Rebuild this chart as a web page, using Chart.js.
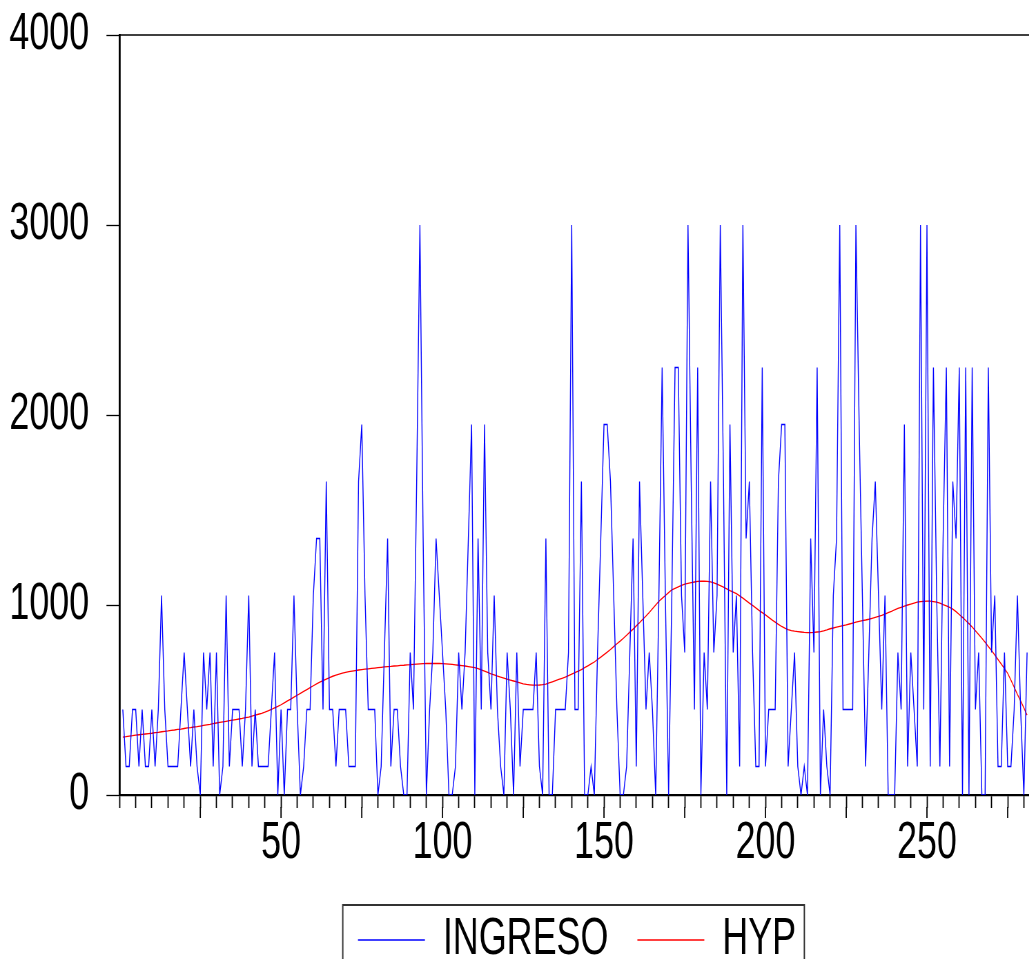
<!DOCTYPE html>
<html>
<head>
<meta charset="utf-8">
<script src="https://cdn.jsdelivr.net/npm/chart.js@4/dist/chart.umd.min.js"></script>
<style>
  html, body { margin: 0; padding: 0; background: #fff; overflow: hidden; }
  canvas { display: block; }
</style>
</head>
<body>
<!-- el gráfico original tiene el texto comprimido en horizontal: se dibuja más ancho y se estrecha con CSS -->
<canvas id="grafico" width="1672" height="985" style="width:1154px;height:985px"></canvas>
<script>
// INGRESO: observaciones 1..281
const ingreso = [
  450, 150, 150, 450, 450, 150, 450, 150, 150, 450,
  150, 450, 1050, 450, 150, 150, 150, 150, 450, 750,
  450, 150, 450, 150, 0, 750, 450, 750, 150, 750,
  0, 150, 1050, 150, 450, 450, 450, 150, 450, 1050,
  150, 450, 150, 150, 150, 150, 450, 750, 0, 450,
  0, 450, 450, 1050, 450, 0, 150, 450, 450, 1050,
  1350, 1350, 450, 1650, 450, 450, 150, 450, 450, 450,
  150, 150, 150, 1650, 1950, 1050, 450, 450, 450, 0,
  150, 750, 1350, 150, 450, 450, 150, 0, 0, 750,
  450, 1650, 3000, 1350, 0, 450, 750, 1350, 1050, 750,
  450, 0, 0, 150, 750, 450, 750, 1350, 1950, 0,
  1350, 450, 1950, 750, 450, 1050, 450, 150, 0, 750,
  450, 0, 750, 150, 450, 450, 450, 450, 750, 150,
  0, 1350, 0, 0, 450, 450, 450, 450, 750, 3000,
  450, 450, 1650, 0, 0, 150, 0, 750, 1350, 1950,
  1950, 1650, 1050, 450, 0, 0, 150, 750, 1350, 150,
  1650, 1050, 450, 750, 450, 0, 1050, 2250, 1050, 0,
  1050, 2250, 2250, 1050, 750, 3000, 1650, 450, 2250, 0,
  750, 450, 1650, 750, 1050, 3000, 1650, 0, 1950, 750,
  1050, 150, 3000, 1350, 1650, 750, 150, 150, 2250, 150,
  450, 450, 450, 1650, 1950, 1950, 150, 450, 750, 150,
  0, 150, 0, 1350, 750, 2250, 0, 450, 150, 0,
  1050, 1350, 3000, 450, 450, 450, 450, 3000, 1950, 1050,
  150, 750, 1350, 1650, 1050, 450, 1050, 0, 0, 0,
  750, 450, 1950, 150, 750, 450, 150, 3000, 450, 3000,
  150, 2250, 1050, 150, 1350, 2250, 150, 1650, 1350, 2250,
  0, 2250, 0, 2250, 450, 750, 0, 0, 2250, 750,
  1050, 150, 150, 750, 150, 150, 450, 1050, 450, 0,
  750
];

// HYP: tendencia Hodrick-Prescott
const hyp = [
  305, 307, 310, 312, 315, 317, 319, 321, 323, 325,
  328, 330, 333, 335, 337, 340, 342, 345, 347, 350,
  353, 355, 358, 360, 363, 366, 369, 372, 376, 379,
  382, 385, 388, 391, 394, 397, 400, 403, 407, 410,
  415, 420, 425, 430, 436, 443, 450, 458, 466, 475,
  485, 495, 505, 515, 525, 535, 545, 555, 565, 575,
  585, 594, 602, 610, 618, 625, 631, 636, 641, 645,
  649, 652, 655, 658, 660, 662, 664, 666, 668, 670,
  672, 674, 676, 677, 679, 680, 682, 683, 685, 686,
  688, 689, 690, 691, 692, 692, 692, 692, 692, 691,
  690, 689, 687, 685, 683, 681, 679, 676, 673, 670,
  665, 659, 652, 645, 638, 632, 626, 620, 615, 610,
  605, 600, 595, 590, 585, 582, 580, 578, 578, 579,
  581, 584, 590, 596, 602, 608, 614, 620, 628, 636,
  644, 652, 660, 670, 680, 690, 700, 713, 726, 739,
  752, 766, 781, 796, 810, 825, 841, 857, 873, 890,
  907, 925, 942, 960, 980, 1000, 1020, 1035, 1050, 1065,
  1080, 1088, 1096, 1103, 1110, 1114, 1118, 1121, 1124, 1125,
  1125, 1124, 1122, 1117, 1110, 1102, 1094, 1085, 1076, 1068,
  1060, 1048, 1036, 1023, 1010, 998, 985, 972, 960, 948,
  935, 922, 910, 898, 887, 878, 870, 865, 862, 860,
  858, 856, 855, 855, 856, 858, 860, 864, 869, 875,
  879, 883, 887, 891, 895, 900, 905, 910, 914, 918,
  921, 925, 930, 935, 940, 945, 952, 960, 967, 975,
  982, 988, 994, 1000, 1005, 1010, 1015, 1018, 1019, 1020,
  1020, 1018, 1015, 1010, 1002, 995, 987, 978, 965, 950,
  935, 918, 902, 884, 865, 845, 825, 804, 782, 760,
  737, 713, 689, 665, 640, 604, 568, 530, 495, 458,
  420
];

const etiquetasX = [50, 100, 150, 200, 250];
const etiquetasY = [0, 1000, 2000, 3000, 4000];
const pasoMenorX = 5;
const pasoMayorX = 25;

const fuente = "'Liberation Sans', Arial, sans-serif";
const observaciones = ingreso.map((v, i) => i + 1);

// marco superior, marcas largas del eje X y caja de la leyenda
const marco = {
  id: 'marco',
  afterDraw(chart) {
    const ctx = chart.ctx;
    const area = chart.chartArea;
    const ejeX = chart.scales.x;
    ctx.save();
    ctx.strokeStyle = '#000';
    ctx.lineWidth = 1.5;
    ctx.beginPath();
    ctx.moveTo(area.left, area.top);
    ctx.lineTo(area.right, area.top);
    ctx.stroke();

    ctx.lineWidth = 1.8;
    ctx.beginPath();
    for (let v = pasoMayorX; v <= ejeX.max; v += pasoMayorX) {
      const px = ejeX.getPixelForValue(v);
      ctx.moveTo(px, area.bottom + 12);
      ctx.lineTo(px, area.bottom + 23);
    }
    ctx.stroke();

    const cajas = chart.legend.legendHitBoxes;
    if (cajas && cajas.length) {
      const izq = cajas[0].left - 22;
      const ult = cajas[cajas.length - 1];
      const der = ult.left + ult.width + 12;
      const centro = cajas[0].top + cajas[0].height / 2;
      ctx.lineWidth = 2;
      ctx.strokeStyle = '#333';
      ctx.strokeRect(izq, centro - 35, der - izq, 80);
    }
    ctx.restore();
  }
};

new Chart(document.getElementById('grafico'), {
  type: 'line',
  data: {
    datasets: [
      {
        label: 'INGRESO',
        data: observaciones.map((x, i) => ({ x: x, y: ingreso[i] })),
        borderColor: '#0000ff',
        borderWidth: 1.4,
        pointRadius: 0,
        tension: 0,
        fill: false
      },
      {
        label: 'HYP',
        data: observaciones.map((x, i) => ({ x: x, y: hyp[i] })),
        borderColor: '#ff0000',
        borderWidth: 1.3,
        pointRadius: 0,
        tension: 0,
        fill: false
      }
    ]
  },
  options: {
    responsive: false,
    devicePixelRatio: 1,
    animation: false,
    layout: { padding: { top: 35, bottom: 9, left: 0, right: 0 } },
    scales: {
      x: {
        type: 'linear',
        min: 0,
        max: 320.3,
        afterBuildTicks(scale) {
          const t = [];
          for (let v = 0; v <= 320; v += pasoMenorX) t.push({ value: v });
          scale.ticks = t;
        },
        afterFit(scale) {
          scale.height = 77;
          scale.paddingLeft = 0;
          scale.paddingRight = 0;
        },
        ticks: {
          autoSkip: false,
          maxRotation: 0,
          padding: 4,
          color: '#000',
          font: { family: fuente, size: 52 },
          callback: (v) => etiquetasX.includes(v) ? String(v) : ''
        },
        grid: { drawOnChartArea: false, tickLength: 13, tickColor: '#000', tickWidth: 1.8 },
        border: { color: '#000', width: 2.2 }
      },
      y: {
        min: 0,
        max: 4000,
        afterBuildTicks(scale) {
          scale.ticks = etiquetasY.map(v => ({ value: v }));
        },
        afterFit(scale) {
          scale.width = 173.2;
          scale.paddingTop = 0;
          scale.paddingBottom = 0;
        },
        ticks: {
          padding: 25,
          color: '#000',
          font: { family: fuente, size: 52 },
          callback: (v) => String(v)
        },
        grid: { drawOnChartArea: false, tickLength: 19, tickColor: '#000', tickWidth: 1.3 },
        border: { color: '#000', width: 2.8 }
      }
    },
    plugins: {
      legend: {
        position: 'bottom',
        labels: {
          usePointStyle: true,
          pointStyle: 'line',
          pointStyleWidth: 97,
          padding: 42,
          color: '#000',
          font: { family: fuente, size: 52 }
        }
      },
      tooltip: { enabled: false }
    }
  },
  plugins: [marco]
});
</script>
</body>
</html>
